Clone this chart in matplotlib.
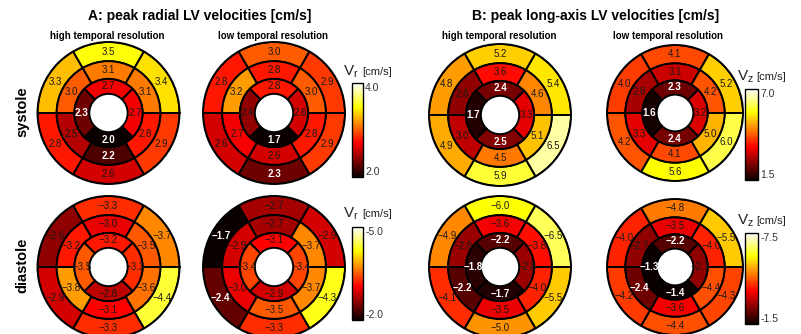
import numpy as np
import matplotlib
matplotlib.use("Agg")
import matplotlib.pyplot as plt
from matplotlib.colors import Normalize
from matplotlib.cm import ScalarMappable

plt.rcParams['font.family'] = ['Liberation Sans', 'DejaVu Sans']

W, H = 801, 334

# ring order: outer/middle = [top, upper-right, lower-right, bottom, lower-left, upper-left]
# inner = [top, right, bottom, left]
a_hi_sys_outer = [3.5, 3.4, 2.9, 2.6, 2.8, 3.3]
a_hi_sys_mid = [3.1, 3.1, 2.8, 2.2, 2.5, 3.0]
a_hi_sys_inner = [2.7, 2.7, 2.0, 2.3]

a_lo_sys_outer = [3.0, 2.9, 2.9, 2.3, 2.6, 2.8]
a_lo_sys_mid = [2.8, 3.0, 2.8, 2.6, 2.7, 3.2]
a_lo_sys_inner = [2.8, 2.6, 1.7, 2.4]

a_hi_dia_outer = [-3.3, -3.7, -4.4, -3.3, -2.9, -2.6]
a_hi_dia_mid = [-3.0, -3.5, -3.6, -3.1, -3.8, -3.2]
a_hi_dia_inner = [-3.2, -3.3, -2.8, -3.5]

a_lo_dia_outer = [-2.7, -2.9, -4.3, -3.3, -2.4, -1.7]
a_lo_dia_mid = [-2.7, -3.7, -3.7, -3.5, -3.0, -2.9]
a_lo_dia_inner = [-3.1, -3.4, -2.9, -3.4]

b_hi_sys_outer = [5.2, 5.4, 6.5, 5.9, 4.9, 4.8]
b_hi_sys_mid = [3.6, 4.6, 5.1, 4.5, 3.0, 2.6]
b_hi_sys_inner = [2.4, 3.3, 2.5, 1.7]

b_lo_sys_outer = [4.1, 5.2, 6.0, 5.6, 4.2, 4.0]
b_lo_sys_mid = [3.1, 4.2, 5.0, 4.1, 3.3, 2.8]
b_lo_sys_inner = [2.3, 3.2, 2.4, 1.6]

b_hi_dia_outer = [-6.0, -6.5, -5.5, -5.0, -4.1, -4.9]
b_hi_dia_mid = [-3.6, -3.8, -4.0, -3.5, -2.2, -2.8]
b_hi_dia_inner = [-2.2, -2.8, -1.7, -1.8]

b_lo_dia_outer = [-4.8, -5.5, -4.3, -4.4, -4.2, -4.0]
b_lo_dia_mid = [-3.5, -4.0, -4.4, -3.6, -2.4, -2.7]
b_lo_dia_inner = [-2.2, -2.7, -1.4, -1.3]

a_sys_ticks = [4.0, 2.0]
a_dia_ticks = [-5.0, -2.0]
b_sys_ticks = [7.0, 1.5]
b_dia_ticks = [-7.5, -1.5]

titles = ["A: peak radial LV velocities [cm/s]", "B: peak long-axis LV velocities [cm/s]"]
subtitles = ["high temporal resolution", "low temporal resolution"]
row_labels = ["systole", "diastole"]

fig = plt.figure(figsize=(W / 100, H / 100), dpi=100)

R = [0.27, 0.48, 0.73, 1.0]
ang6 = np.deg2rad([90, 30, -30, -90, -150, 150])
ang4 = np.deg2rad([90, 0, -90, 180])


def px_axes(cx, cy, r):
    return fig.add_axes([(cx - r) / W, (H - cy - r) / H, 2 * r / W, 2 * r / H], projection='polar')


def fmt(v):
    s = f"{abs(v):.1f}"
    return ("\u2212" + s) if v < 0 else s


def bullseye(cx, cy, r, outer, mid, inner, vmin, vmax, cmap, flip):
    ax = px_axes(cx, cy, r)
    norm = Normalize(vmin, vmax)
    cm = plt.get_cmap(cmap)
    rings = [(outer, ang6, 60, R[2], R[3]), (mid, ang6, 60, R[1], R[2]), (inner, ang4, 90, R[0], R[1])]
    for vals, ang, wdeg, r0, r1 in rings:
        vals = np.asarray(vals)
        ax.bar(ang, r1 - r0, width=np.deg2rad(wdeg), bottom=r0, color=cm(norm(vals)),
               edgecolor='black', linewidth=1.4, align='center')
        for a, v in zip(ang, vals):
            t = float(norm(v))
            dark = (1 - t) if flip else t
            col = 'white' if dark < 0.19 else '#1a1a1a'
            ax.text(a, (r0 + r1) / 2, fmt(v), ha='center', va='center', fontsize=7,
                    color=col, fontweight='bold' if col == 'white' else 'normal')
    ax.set_ylim(0, 1)
    ax.set_xticks([])
    ax.set_yticks([])
    ax.grid(False)
    ax.spines['polar'].set_linewidth(1.4)
    ax.patch.set_alpha(0)
    return ax


def cbar(x0, x1, y0, y1, vmin, vmax, cmap, ticks, lab_x, lab_y, sub, invert):
    cax = fig.add_axes([x0 / W, (H - y1) / H, (x1 - x0) / W, (y1 - y0) / H])
    sm = ScalarMappable(norm=Normalize(vmin, vmax), cmap=cmap)
    cb = fig.colorbar(sm, cax=cax)
    cb.set_ticks([])
    cb.outline.set_linewidth(1.0)
    if invert:
        cax.invert_yaxis()
    cax.text(1.2, 1.0, f"{ticks[0]:.1f}", transform=cax.transAxes, ha='left', va='top',
             fontsize=7.5, color='#333333')
    cax.text(1.2, 0.0, f"{ticks[1]:.1f}", transform=cax.transAxes, ha='left', va='bottom',
             fontsize=7.5, color='#333333')
    fig.text(lab_x / W, 1 - lab_y / H, r"V$_\mathregular{" + sub + "}$", fontsize=11,
             ha='left', va='baseline', color='#222222')
    fig.text((lab_x + 19) / W, 1 - lab_y / H, "[cm/s]", fontsize=8,
             ha='left', va='baseline', color='#222222')


# systole row
bullseye(108.5, 113, 71, a_hi_sys_outer, a_hi_sys_mid, a_hi_sys_inner, 2.0, 4.0, 'hot', False)
bullseye(274, 113, 71, a_lo_sys_outer, a_lo_sys_mid, a_lo_sys_inner, 2.0, 4.0, 'hot', False)
bullseye(500, 115, 71, b_hi_sys_outer, b_hi_sys_mid, b_hi_sys_inner, 1.5, 7.0, 'hot', False)
bullseye(675, 113, 68, b_lo_sys_outer, b_lo_sys_mid, b_lo_sys_inner, 1.5, 7.0, 'hot', False)
# diastole row
bullseye(108.5, 267, 71, a_hi_dia_outer, a_hi_dia_mid, a_hi_dia_inner, -5.0, -2.0, 'hot_r', True)
bullseye(274, 267, 71, a_lo_dia_outer, a_lo_dia_mid, a_lo_dia_inner, -5.0, -2.0, 'hot_r', True)
bullseye(500, 267, 71, b_hi_dia_outer, b_hi_dia_mid, b_hi_dia_inner, -7.5, -1.5, 'hot_r', True)
bullseye(675, 267, 68, b_lo_dia_outer, b_lo_dia_mid, b_lo_dia_inner, -7.5, -1.5, 'hot_r', True)

cbar(352, 363, 83, 177, 2.0, 4.0, 'hot', a_sys_ticks, 343, 75, 'r', False)
cbar(352, 363, 227, 320, -5.0, -2.0, 'hot_r', a_dia_ticks, 343, 217, 'r', True)
cbar(745, 758, 89, 180, 1.5, 7.0, 'hot', b_sys_ticks, 737, 80, 'z', False)
cbar(745, 758, 233, 324, -7.5, -1.5, 'hot_r', b_dia_ticks, 737, 224, 'z', True)

fig.text(200 / W, 1 - 16 / H, titles[0], fontsize=10, fontweight='bold', ha='center', va='center')
fig.text(596 / W, 1 - 16 / H, titles[1], fontsize=10, fontweight='bold', ha='center', va='center')
for cx in (107, 499):
    fig.text(cx / W, 1 - 36 / H, subtitles[0], fontsize=7, fontweight='bold', ha='center', va='center')
for cx in (273, 668):
    fig.text(cx / W, 1 - 36 / H, subtitles[1], fontsize=7, fontweight='bold', ha='center', va='center')

fig.text(22.5 / W, 1 - 112 / H, row_labels[0], fontsize=10.5, fontweight='bold', rotation=90,
         ha='center', va='center')
fig.text(22 / W, 1 - 265 / H, row_labels[1], fontsize=10.5, fontweight='bold', rotation=90,
         ha='center', va='center')

fig.savefig("out.png", dpi=100)
